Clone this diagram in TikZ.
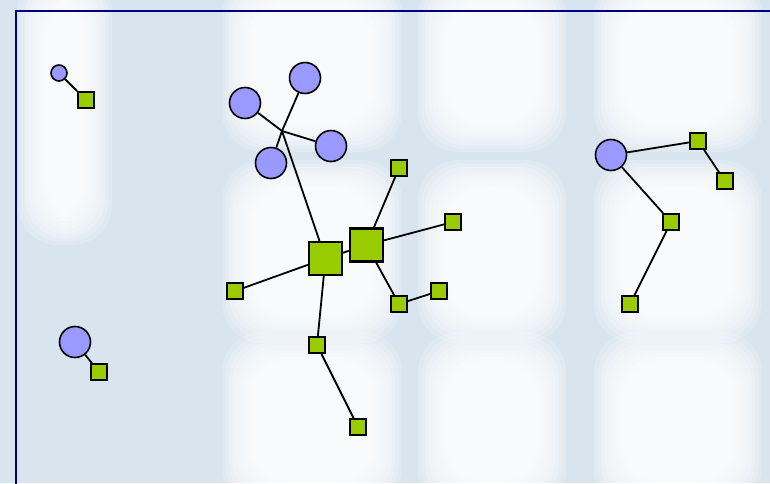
\documentclass[tikz,border=0pt]{standalone}
\definecolor{bgblue}{HTML}{D8E4EE}
\definecolor{circblue}{HTML}{9999FF}
\definecolor{sqgreen}{HTML}{99CC00}
\definecolor{frameblue}{HTML}{000080}
\tikzset{
  circnode/.style={circle, draw=black, fill=circblue, line width=1.6pt, minimum size=31pt, inner sep=0pt},
  smallcirc/.style={circnode, minimum size=16pt},
  sqnode/.style={rectangle, draw=black, fill=sqgreen, line width=1.8pt, minimum size=16pt, inner sep=0pt},
  bigsq/.style={sqnode, line width=2.1pt, minimum size=33pt},
  edge/.style={draw=black, line width=1.8pt},
  blob/.style={fill=white, fill opacity=0.2, rounded corners=40pt}
}
\newcommand{\softblob}[4]{%
  \foreach \k in {0,...,8}{
    \fill[blob] ({#1+3.5*\k},{#2+3.5*\k}) rectangle ({#3-3.5*\k},{#4-3.5*\k});
  }}
\begin{document}
\begin{tikzpicture}[x=1pt,y=-1pt]
\useasboundingbox (0,0) rectangle (770,483);
\fill[bgblue] (0,0) rectangle (770,483);
% blurred background blobs
\softblob{18}{-30}{112}{245}
\softblob{222}{-25}{402}{152}
\softblob{418}{-25}{566}{152}
\softblob{594}{-25}{762}{152}
\softblob{222}{160}{402}{343}
\softblob{418}{160}{566}{343}
\softblob{594}{160}{762}{343}
\softblob{222}{332}{402}{510}
\softblob{418}{332}{566}{510}
\softblob{594}{332}{762}{510}
% frame
\draw[frameblue, line width=2pt] (16,490) -- (16,11) -- (780,11);
% nodes
\node[smallcirc] (A) at (59,73) {};
\node[sqnode] (a1) at (86,100) {};
\coordinate (hub) at (282,131);
\node[circnode] (c1) at (245,103) {};
\node[circnode] (c2) at (305,78) {};
\node[circnode] (c3) at (331,146) {};
\node[circnode] (c4) at (271,163) {};
\node[bigsq] (S1) at (325.5,258.5) {};
\node[bigsq] (S2) at (366.5,245) {};
\node[sqnode] (t1) at (399,168) {};
\node[sqnode] (t2) at (453,222) {};
\node[sqnode] (t3) at (399,304) {};
\node[sqnode] (t4) at (439,291) {};
\node[sqnode] (t5) at (235,291) {};
\node[sqnode] (t6) at (317,345) {};
\node[sqnode] (t7) at (358,427) {};
\node[circnode] (R) at (611,155) {};
\node[sqnode] (r1) at (698,141) {};
\node[sqnode] (r2) at (725,181) {};
\node[sqnode] (r3) at (671,222) {};
\node[sqnode] (r4) at (630,304) {};
\node[circnode] (B) at (75,342) {};
\node[sqnode] (b1) at (99,372) {};
% edges
\path[edge] (A) -- (a1);
\path[edge] (c1) -- (hub);
\path[edge] (c2) -- (hub);
\path[edge] (c3) -- (hub);
\path[edge] (c4) -- (hub);
\path[edge] (hub) -- (S1);
\path[edge] (S1) -- (S2);
\path[edge] (S2) -- (t1);
\path[edge] (S2) -- (t2);
\path[edge] (S2) -- (t3);
\path[edge] (t3) -- (t4);
\path[edge] (S1) -- (t5);
\path[edge] (S1) -- (t6);
\path[edge] (t6) -- (t7);
\path[edge] (R) -- (r1);
\path[edge] (r1) -- (r2);
\path[edge] (R) -- (r3);
\path[edge] (r3) -- (r4);
\path[edge] (B) -- (b1);
\end{tikzpicture}
\end{document}
